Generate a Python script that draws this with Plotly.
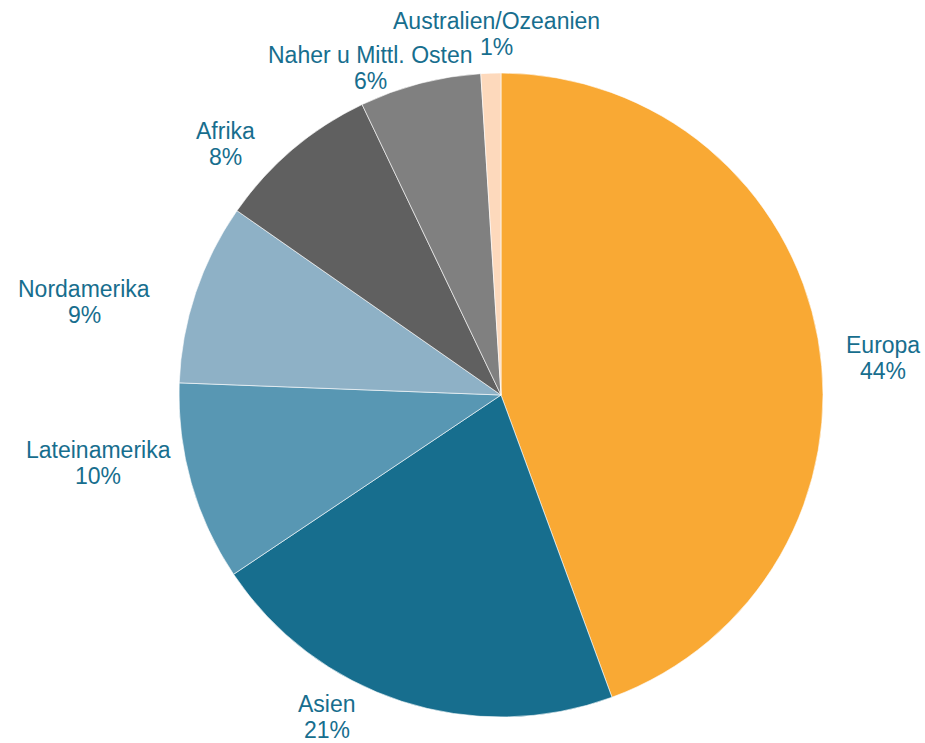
import plotly.graph_objects as go

W, H = 925, 743

regions = ["Europa", "Asien", "Lateinamerika", "Nordamerika", "Afrika",
           "Naher u Mittl. Osten", "Australien/Ozeanien"]
shares = [44.4, 21.2, 10.0, 9.1, 8.2, 6.1, 1.0]
colors = ["#F9A934", "#176E8E", "#5897B3", "#8EB1C6", "#606060", "#808080", "#FDD9BC"]

# label anchor points in pixels (x centre, name line middle, percent line middle)
label_xy = {
    "Europa": (883, 345, 371),
    "Asien": (327, 704, 730),
    "Lateinamerika": (98, 450, 476),
    "Nordamerika": (84, 289, 315),
    "Afrika": (225, 131, 157),
    "Naher u Mittl. Osten": (370, 55, 81),
    "Australien/Ozeanien": (497, 21, 47),
}

TEXT_COLOR = "#176E8E"
FONT = "Liberation Sans, Arial, sans-serif"

def px(x):
    return x / W

def py(y):
    return 1 - y / H

fig = go.Figure(go.Pie(
    labels=regions,
    values=shares,
    sort=False,
    direction="clockwise",
    rotation=0,
    marker=dict(colors=colors, line=dict(color="white", width=0.6)),
    textinfo="none",
    showlegend=False,
    domain=dict(x=[px(179), px(823)], y=[py(717), py(73)]),
    hoverinfo="label+percent",
))

total = sum(shares)
annotations = []
for name, val in zip(regions, shares):
    x, y1, y2 = label_xy[name]
    pct = f"{round(val / total * 100):.0f}%"
    for txt, yy in ((name, y1), (pct, y2)):
        annotations.append(dict(
            text=txt, x=px(x), y=py(yy), xref="paper", yref="paper",
            xanchor="center", yanchor="middle", showarrow=False,
            font=dict(family=FONT, size=23, color=TEXT_COLOR),
        ))

fig.update_layout(
    width=W, height=H,
    margin=dict(l=0, r=0, t=0, b=0),
    paper_bgcolor="white",
    plot_bgcolor="white",
    annotations=annotations,
)

fig.write_html("out.html", config={"displayModeBar": False},
               post_script="document.body.style.margin='0';")
